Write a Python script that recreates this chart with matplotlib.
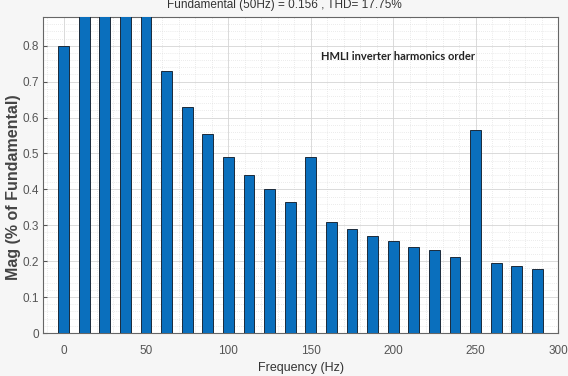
import matplotlib
matplotlib.use("Agg")
import matplotlib.pyplot as plt
from matplotlib.ticker import MultipleLocator

# harmonic spectrum (frequency in Hz, magnitude as fraction of fundamental)
freqs = [0, 12.5, 25, 37.5, 50, 62.5, 75, 87.5, 100, 112.5, 125, 137.5,
         150, 162.5, 175, 187.5, 200, 212.5, 225, 237.5, 250, 262.5, 275, 287.5]
mags = [0.80, 1.20, 1.45, 1.30, 1.00, 0.73, 0.63, 0.555, 0.49, 0.44, 0.40, 0.365,
        0.49, 0.31, 0.29, 0.27, 0.255, 0.24, 0.23, 0.213, 0.565, 0.195, 0.187, 0.178]
xticks = [0, 50, 100, 150, 200, 250, 300]
yticks = [0, 0.1, 0.2, 0.3, 0.4, 0.5, 0.6, 0.7, 0.8]

plt.rcParams['font.family'] = ['Liberation Sans', 'DejaVu Sans']

fig = plt.figure(figsize=(5.68, 3.76), dpi=100, facecolor='#f6f6f6')
ax = fig.add_axes([43 / 568, 1 - 333 / 376, 515 / 568, 316 / 376])

ax.bar(freqs, mags, width=6.6, color='#0a6fbd', edgecolor='#1b2a3a', linewidth=0.7, zorder=3)

ax.set_xlim(-12.5, 300)
ax.set_ylim(0, 0.88)
ax.set_xticks(xticks)
ax.set_yticks(yticks)
ax.set_yticklabels(['0', '0.1', '0.2', '0.3', '0.4', '0.5', '0.6', '0.7', '0.8'])
ax.xaxis.set_minor_locator(MultipleLocator(10))
ax.yaxis.set_minor_locator(MultipleLocator(0.02))

ax.grid(True, which='major', color='#d4d4d4', linewidth=0.6, zorder=0)
ax.grid(True, which='minor', color='#d8d8d8', linewidth=0.5, linestyle=(0, (1, 2)), zorder=0)
ax.tick_params(which='both', direction='in', colors='#555555', labelsize=8.5, length=3)
ax.tick_params(axis='x', pad=9)
ax.tick_params(axis='y', pad=3)
ax.tick_params(which='minor', length=0)
for sp in ax.spines.values():
    sp.set_color('#666666')
    sp.set_linewidth(0.8)

ax.set_xlabel('Frequency (Hz)', fontsize=9, color='#333333', labelpad=3)
ax.set_ylabel('Mag (% of Fundamental)', fontsize=11.5, color='#444444', fontweight='bold')
ax.yaxis.set_label_coords(-0.043, 0.46)

ax.text(156, 0.76, 'HMLI inverter harmonics order', family=['Lato', 'DejaVu Sans'],
        fontsize=8, fontweight='bold', color='#222222', zorder=5)

fig.text(0.5, 1 - 5 / 376, 'Fundamental (50Hz) = 0.156 , THD= 17.75%',
         ha='center', va='center', fontsize=8.5, color='#333333')

fig.savefig('out.png', dpi=100, facecolor=fig.get_facecolor())
